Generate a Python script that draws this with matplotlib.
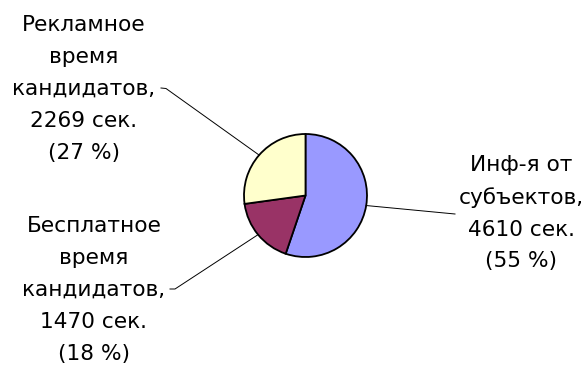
import numpy as np
import matplotlib
matplotlib.use("Agg")
import matplotlib.pyplot as plt

# Airtime breakdown (seconds)
categories = ["Инф-я от\nсубъектов", "Бесплатное\nвремя\nкандидатов", "Рекламное\nвремя\nкандидатов"]
seconds = [4610, 1470, 2269]
percents = [55, 18, 27]
colors = ["#9999FF", "#993366", "#FFFFCC"]

W, H = 585, 373
fig = plt.figure(figsize=(W / 100, H / 100), dpi=100)
ax = fig.add_axes([0, 0, 1, 1])

cx, cy, r = 305.5, H - 195.5, 61.5
wedges, _ = ax.pie(seconds, colors=colors, startangle=90, counterclock=False,
                   center=(cx, cy), radius=r, frame=True,
                   wedgeprops=dict(edgecolor="black", linewidth=1.3))
ax.set_xlim(0, W)
ax.set_ylim(0, H)
ax.set_aspect("equal")
ax.axis("off")

plt.rcParams["font.family"] = ["DejaVu Sans"]
fs = 15.6

# label block centres and leader-line anchor points (pixel coords, y from top)
label_pos = [(521, 213), (94, 290), (84, 89)]
anchors = [[(455, 214)], [(170, 289), (175, 289)], [(161, 88), (166, 88.5)]]

for w, cat, s, p, (lx, ly), anc in zip(wedges, categories, seconds, percents, label_pos, anchors):
    text = f"{cat},\n{s} сек.\n({p} %)"
    ax.text(lx, H - ly, text, ha="center", va="center", fontsize=fs,
            linespacing=1.74, color="black")
    mid = np.deg2rad((w.theta1 + w.theta2) / 2)
    ex, ey = cx + r * np.cos(mid), cy + r * np.sin(mid)
    xs = [a[0] for a in anc] + [ex]
    ys = [H - a[1] for a in anc] + [ey]
    ax.plot(xs, ys, color="black", linewidth=0.7)

fig.savefig("out.png", dpi=100)
